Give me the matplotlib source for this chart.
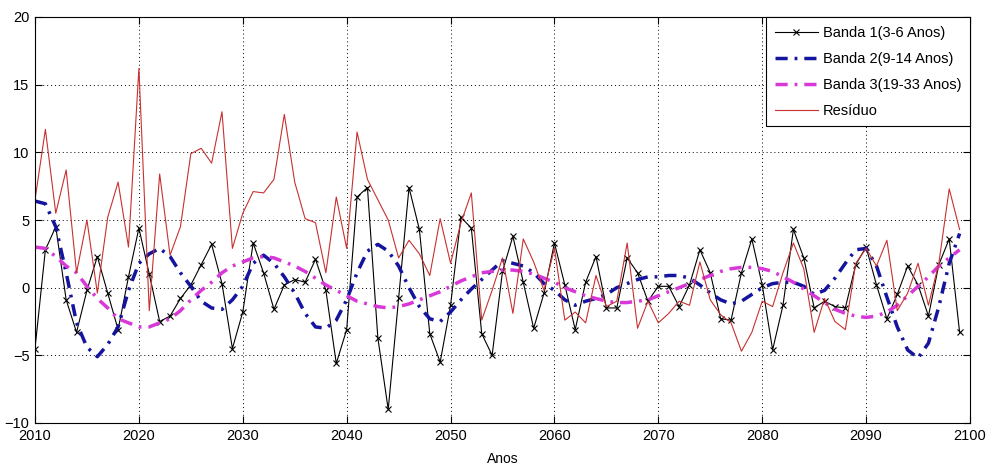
import matplotlib
matplotlib.use("Agg")
import matplotlib.pyplot as plt
import numpy as np

plt.rcParams['font.family'] = ['Liberation Sans', 'DejaVu Sans']

years = list(range(2010, 2100))

banda1 = [-4.5, 2.8, 4.5, -0.9, -3.3, -0.2, 2.3, -0.4, -3.1, 0.8,
          4.4, 1.0, -2.5, -2.1, -0.8, 0.2, 1.7, 3.2, 0.3, -4.5,
          -1.8, 3.3, 1.1, -1.6, 0.2, 0.6, 0.4, 2.1, -0.2, -5.6,
          -3.1, 6.7, 7.4, -3.7, -9.0, -0.8, 7.4, 4.3, -3.4, -5.5,
          -1.3, 5.2, 4.4, -3.4, -5.0, 1.2, 3.8, 0.4, -3.0, -0.4,
          3.3, 0.2, -3.1, 0.4, 2.3, -1.5, -1.5, 2.2, 1.1, -1.0,
          0.1, 0.1, -1.4, 0.2, 2.8, 1.1, -2.3, -2.4, 1.1, 3.6,
          0.2, -4.6, -1.3, 4.3, 2.2, -1.5, -1.0, -1.4, -1.5, 1.7,
          3.0, 0.2, -2.3, -0.5, 1.6, 0.2, -2.1, 1.7, 3.6, -3.3]

banda2 = [6.4, 6.2, 4.5, 1.1, -2.6, -4.4, -5.1, -4.2, -2.9, -0.2,
          1.8, 2.5, 2.9, 2.3, 1.1, 0.1, -1.0, -1.5, -1.6, -0.9,
          0.1, 1.8, 2.4, 1.8, 0.8, -0.4, -1.9, -2.9, -3.0, -2.4,
          -0.9, 1.1, 2.7, 3.2, 2.7, 1.6, 0.0, -1.4, -2.3, -2.5,
          -1.8, -0.9, -0.1, 0.6, 1.3, 2.0, 1.8, 1.6, 1.1, 0.3,
          -0.2, -0.9, -1.3, -1.0, -0.8, -0.5, 0.0, 0.3, 0.6, 0.8,
          0.8, 0.9, 0.9, 0.7, 0.2, -0.4, -0.9, -1.2, -1.0, -0.5,
          0.0, 0.3, 0.4, 0.4, 0.1, -0.5, -0.2, 0.7, 1.8, 2.8,
          2.9, 1.6, -0.7, -2.9, -4.6, -5.2, -4.1, -1.4, 1.8, 4.0]

banda3 = [3.0, 2.9, 2.3, 1.6, 1.1, 0.1, -0.8, -1.5, -2.3, -2.6,
          -2.9, -2.9, -2.6, -2.3, -1.7, -0.9, -0.2, 0.4, 1.1, 1.6,
          1.9, 2.2, 2.3, 2.2, 1.9, 1.6, 1.2, 0.7, 0.2, -0.2,
          -0.6, -1.0, -1.2, -1.4, -1.5, -1.4, -1.2, -0.9, -0.6, -0.3,
          0.1, 0.5, 0.8, 1.1, 1.2, 1.3, 1.3, 1.2, 1.0, 0.7,
          0.4, 0.0, -0.3, -0.6, -0.8, -1.0, -1.1, -1.1, -1.0, -0.9,
          -0.6, -0.3, 0.0, 0.3, 0.6, 0.9, 1.2, 1.4, 1.5, 1.5,
          1.4, 1.2, 0.8, 0.4, -0.1, -0.6, -1.1, -1.6, -1.9, -2.1,
          -2.2, -2.1, -1.8, -1.3, -0.6, 0.1, 0.8, 1.6, 2.2, 2.8]

residuo = [6.5, 11.7, 5.5, 8.7, 1.1, 5.0, -0.4, 5.2, 7.8, 3.0,
           16.2, -1.7, 8.4, 2.4, 4.5, 9.9, 10.3, 9.2, 13.0, 2.9,
           5.5, 7.1, 7.0, 8.0, 12.8, 7.8, 5.1, 4.8, 1.1, 6.7,
           2.9, 11.5, 8.0, 6.5, 5.0, 2.2, 3.5, 2.5, 0.9, 5.1,
           1.8, 4.8, 7.0, -2.4, -0.2, 2.2, -1.9, 3.6, 1.9, -0.2,
           2.9, -2.4, -1.8, -2.6, 0.9, -1.4, -1.0, 3.3, -3.0, -1.0,
           -2.6, -1.9, -1.0, -1.3, 1.9, -0.9, -2.0, -2.6, -4.7, -3.3,
           -1.0, -1.4, 1.1, 3.3, 1.4, -3.3, -0.8, -2.5, -3.1, 1.8,
           2.9, 1.6, 3.5, -1.7, -0.4, 1.8, -1.3, 1.8, 7.3, 4.3]

labels = ['Banda 1(3-6 Anos)', 'Banda 2(9-14 Anos)', 'Banda 3(19-33 Anos)', 'Resíduo']
xticks = list(range(2010, 2101, 10))
yticks = list(range(-10, 21, 5))

fig = plt.figure(figsize=(9.87, 4.71), dpi=100)
ax = fig.add_axes([35/987, 1 - 423/471, 935/987, 406/471])

ax.plot(years, banda1, color='black', lw=0.8, marker='x', ms=4.5, mew=0.8, label=labels[0])
ax.plot(years, banda2, color='#14149e', lw=2.5, dashes=(3.5, 2, 0.8, 2), label=labels[1])
ax.plot(years, banda3, color='#d838d8', lw=2.5, dashes=(3.5, 2, 0.8, 2), label=labels[2])
ax.plot(years, residuo, color='#c83030', lw=0.8, label=labels[3])

ax.set_xlim(2010, 2100)
ax.set_ylim(-10, 20)
ax.set_xticks(xticks)
ax.set_yticks(yticks)
ax.tick_params(direction='in', top=True, right=True, length=5, width=0.8, labelsize=10.5, pad=4)
ax.grid(True, linestyle=(0, (1, 3)), color='black', lw=0.7)
for s in ax.spines.values():
    s.set_linewidth(0.8)
ax.set_xlabel('Anos', fontsize=10, labelpad=7)

leg = ax.legend(loc='upper right', fontsize=10.5, frameon=True, fancybox=False,
                edgecolor='black', framealpha=1, borderaxespad=0, handlelength=3.0,
                labelspacing=0.82, borderpad=0.6, handletextpad=0.3)
leg.get_frame().set_linewidth(0.8)

fig.savefig('out.png', dpi=100, facecolor='white')
